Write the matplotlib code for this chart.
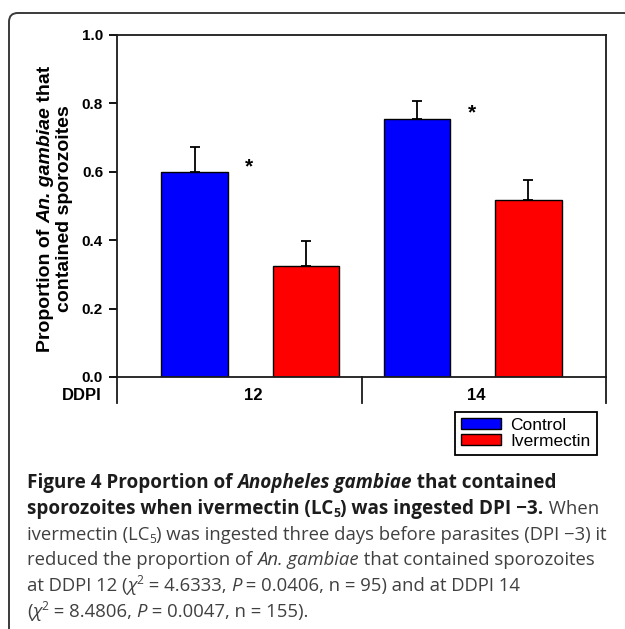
import matplotlib
matplotlib.use('Agg')
import matplotlib.pyplot as plt
from matplotlib.patches import FancyBboxPatch
from matplotlib.font_manager import FontProperties
import numpy as np

# ---------------- data ----------------
groups = ['12', '14']
series = ['Control', 'Ivermectin']
control = [0.598, 0.755]
control_err = [0.074, 0.052]
ivermectin = [0.324, 0.518]
ivermectin_err = [0.074, 0.059]
significant = ['*', '*']
yticks = [0.0, 0.2, 0.4, 0.6, 0.8, 1.0]
x_label = 'DDPI'

plt.rcParams['font.family'] = ['Liberation Sans', 'DejaVu Sans']

W, H = 625, 629
fig = plt.figure(figsize=(W / 100, H / 100), dpi=100)
fig.patch.set_facecolor('white')


def fx(px):
    return px / W


def fy(py):
    return 1 - py / H


# outer rounded frame
frame = FancyBboxPatch((fx(9), fy(660)), (660 - 9) / W, (660 - 13) / H,
                       boxstyle='round,pad=0,rounding_size=0.014',
                       transform=fig.transFigure, facecolor='none',
                       edgecolor='#3a3a3a', linewidth=1.4)
fig.add_artist(frame)

ax = fig.add_axes([fx(117), fy(377), (606 - 117) / W, (377 - 35) / H])

n = len(groups)
xc = np.arange(n) * 2.0
xi = xc + 1.0
bw = 0.6
bars_c = ax.bar(xc, control, bw, color='#0000FF', edgecolor='black', linewidth=1.0, zorder=2)
bars_i = ax.bar(xi, ivermectin, bw, color='#FF0000', edgecolor='black', linewidth=1.0, zorder=2)
ax.errorbar(xc, control, yerr=[np.zeros(n), control_err], fmt='none', ecolor='black',
            elinewidth=1.3, capsize=3.6, capthick=1.3, zorder=3)
ax.errorbar(xi, ivermectin, yerr=[np.zeros(n), ivermectin_err], fmt='none', ecolor='black',
            elinewidth=1.3, capsize=3.6, capthick=1.3, zorder=3)

for k in range(n):
    ax.text(xc[k] + 0.49, control[k], significant[k], ha='center', va='baseline',
            fontsize=15, fontweight='bold', color='black')

ax.set_xlim(-0.7, 2 * n - 0.3)
ax.set_ylim(0, 1.0)
ax.set_yticks(yticks)
ax.set_yticklabels([f'{v:.1f}' for v in yticks], fontsize=11, fontweight='bold')
ax.set_xticks([])
ax.tick_params(axis='y', direction='out', length=6, width=1.3, pad=4, colors='black')
for sp in ax.spines.values():
    sp.set_linewidth(1.3)
    sp.set_color('#1a1a1a')

# group separators and group labels below the axis
trans = ax.get_xaxis_transform()
lo, hi = ax.get_xlim()
for xv in [lo] + [xc[k] + 1.5 for k in range(n - 1)] + [hi]:
    ax.plot([xv, xv], [0, -0.076], transform=trans, clip_on=False, color='#1a1a1a', lw=1.3)
for k, g in enumerate(groups):
    ax.text(xc[k] + 0.53, -0.053, g, transform=trans, ha='center', va='center',
            fontsize=12, fontweight='bold')
fig.text(fx(102), fy(396), x_label, ha='right', va='center', fontsize=12, fontweight='bold')

# legend
leg = fig.legend([bars_c, bars_i], series, loc='upper left',
                 bbox_to_anchor=(fx(455), fy(412)), borderaxespad=0,
                 frameon=True, fancybox=False, edgecolor='black', framealpha=1,
                 fontsize=12.5, handlelength=2.3, handleheight=0.6,
                 handletextpad=0.55, labelspacing=0.05, borderpad=0.35)
leg.get_frame().set_linewidth(1.3)

# ---------------- text runs ----------------
renderer = fig.canvas.get_renderer()


def fprop(family, size, weight='normal', style='normal'):
    return FontProperties(family=family, size=size, weight=weight, style=style)


def text_width(s, fp):
    t = fig.text(0, 0, '|' + s + '|', fontproperties=fp)
    w1 = t.get_window_extent(renderer).width
    t.set_text('||')
    w0 = t.get_window_extent(renderer).width
    t.remove()
    return w1 - w0


def draw_runs(x, y, runs, rotation=0):
    cx, cy = x, y
    for s, fp, shift, col in runs:
        w = text_width(s, fp)
        if rotation == 0:
            fig.text(fx(cx), fy(cy - shift), s, fontproperties=fp, color=col,
                     ha='left', va='baseline')
            cx += w
        else:
            fig.text(fx(cx - shift), fy(cy), s, fontproperties=fp, color=col,
                     ha='left', va='baseline', rotation=90, rotation_mode='anchor')
            cy -= w


def runs_width(runs):
    return sum(text_width(s, fp) for s, fp, _, _ in runs)


# y-axis label (two lines, rotated)
LF = ['Liberation Sans', 'DejaVu Sans']
lb = fprop(LF, 14, 'bold')
lbi = fprop(LF, 14, 'bold', 'italic')
ylab1 = [('Proportion of ', lb, 0, 'black'), ('An. gambiae', lbi, 0, 'black'),
         (' that', lb, 0, 'black')]
ylab2 = [('contained sporozoites', lb, 0, 'black')]
ycenter = 209
for runs, xb in [(ylab1, 50), (ylab2, 69)]:
    draw_runs(xb, ycenter + runs_width(runs) / 2, runs, rotation=90)

# caption
CF = ['Open Sans', 'DejaVu Sans']
cb = 13.6
cr = 13.3
B = fprop(CF, cb, 'bold')
BI = fprop(CF, cb, 'bold', 'italic')
Bs = fprop(CF, cb * 0.65, 'bold')
R = fprop(CF, cr)
RI = fprop(CF, cr, style='italic')
Rs = fprop(CF, cr * 0.65)
kb = '#1c1c1c'
kr = '#404040'
caption = [
    [('Figure 4 Proportion of ', B, 0, kb), ('Anopheles gambiae', BI, 0, kb),
     (' that contained', B, 0, kb)],
    [('sporozoites when ivermectin (LC', B, 0, kb), ('5', Bs, -3, kb),
     (') was ingested DPI \u22123.', B, 0, kb), (' When', R, 0, kr)],
    [('ivermectin (LC', R, 0, kr), ('5', Rs, -3, kr),
     (') was ingested three days before parasites (DPI \u22123) it', R, 0, kr)],
    [('reduced the proportion of ', R, 0, kr), ('An. gambiae', RI, 0, kr),
     (' that contained sporozoites', R, 0, kr)],
    [('at DDPI 12 (', R, 0, kr), ('\u03c7', RI, 0, kr), ('2', Rs, 7, kr),
     (' = 4.6333, ', R, 0, kr), ('P', RI, 0, kr),
     (' = 0.0406, n = 95) and at DDPI 14', R, 0, kr)],
    [('(', R, 0, kr), ('\u03c7', RI, 0, kr), ('2', Rs, 7, kr),
     (' = 8.4806, ', R, 0, kr), ('P', RI, 0, kr),
     (' = 0.0047, n = 155).', R, 0, kr)],
]
for i, runs in enumerate(caption):
    draw_runs(27, 488 + 25.8 * i, runs)

fig.savefig('out.png', dpi=100)
